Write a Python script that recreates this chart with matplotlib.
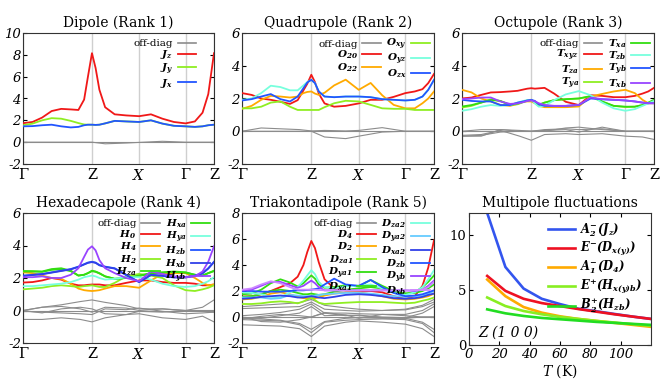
import matplotlib
matplotlib.use('Agg')
import matplotlib.pyplot as plt
from matplotlib.lines import Line2D

plt.rcParams['font.family'] = 'DejaVu Serif'
plt.rcParams['mathtext.fontset'] = 'dejavuserif'

# k-path sample positions (fraction of the path) and high-symmetry points
K = [0, .05, .10, .15, .20, .25, .29, .32, .34, .361, .38, .40, .43, .48,
     .54, .608, .67, .73, .79, .851, .90, .94, .97, 1.0]
KC = [0, .1, .2, .3, .361, .43, .54, .608, .73, .851, .94, 1.0]
sym_pos = [0, 0.361, 0.608, 0.851, 1.0]
sym_lab = ['Γ', 'Z', r'$X$', 'Γ', 'Z']

# ---- Dipole
Jz = [1.74, 1.85, 2.25, 2.85, 3.05, 3.0, 2.95, 3.9, 6.0, 8.15, 6.8, 4.8, 3.2, 2.55,
      2.45, 2.38, 2.55, 2.15, 1.85, 1.72, 1.9, 2.7, 4.4, 8.15]
Jy = [1.55, 1.7, 2.0, 2.2, 2.15, 1.95, 1.75, 1.62, 1.6, 1.6, 1.58, 1.6, 1.72, 1.95,
      1.9, 1.85, 2.0, 1.7, 1.5, 1.45, 1.4, 1.45, 1.55, 1.6]
Jx = [1.45, 1.47, 1.55, 1.6, 1.45, 1.35, 1.4, 1.55, 1.6, 1.6, 1.58, 1.6, 1.72, 1.95,
      1.9, 1.85, 2.0, 1.7, 1.5, 1.45, 1.4, 1.45, 1.55, 1.6]
dip_off = [
    [0, 0, 0, 0, 0, 0, 0, 0, 0, 0, 0, 0],
    [0, 0, 0, 0, 0, -0.15, -0.08, -0.02, 0.08, 0, 0, 0],
]

# ---- Quadrupole
O20 = [2.33, 2.22, 2.0, 1.92, 1.8, 1.67, 1.9, 2.5, 2.9, 3.45, 3.0, 2.3, 1.7, 1.5,
       1.55, 1.7, 1.92, 1.92, 2.1, 2.33, 2.43, 2.57, 2.94, 3.5]
O22 = [1.37, 1.55, 1.92, 2.16, 2.12, 2.06, 2.12, 2.33, 2.4, 2.43, 2.3, 2.22, 2.35, 2.8,
       3.15, 2.53, 2.95, 2.2, 1.61, 1.4, 1.4, 1.71, 2.0, 2.43]
Oxy = [1.4, 1.4, 1.5, 1.75, 1.82, 1.5, 1.3, 1.3, 1.3, 1.3, 1.3, 1.3, 1.47, 1.71,
       1.86, 1.82, 1.61, 1.4, 1.37, 1.37, 1.3, 1.3, 1.3, 1.3]
Oyz = [1.92, 2.0, 2.33, 2.78, 2.7, 2.5, 2.5, 2.8, 3.0, 3.14, 2.94, 2.43, 2.12, 2.08,
       2.12, 2.12, 2.08, 1.96, 1.92, 1.88, 1.92, 2.12, 2.53, 3.14]
Ozx = [1.88, 1.96, 2.12, 2.27, 1.96, 1.82, 2.12, 2.63, 2.98, 3.14, 2.94, 2.43, 2.12, 2.08,
       2.12, 2.12, 2.08, 1.96, 1.92, 1.88, 1.92, 2.12, 2.53, 3.14]
quad_off = [
    [0, 0, 0, 0, 0, 0, 0, 0, 0, 0, 0, 0],
    [0, 0.2, 0.15, 0.1, 0.02, 0.05, 0.02, 0.05, 0.22, 0, 0, 0],
    [0, 0, 0, 0, 0, -0.35, -0.45, -0.3, -0.05, 0, 0, 0],
]

# ---- Octupole
Txyz = [2.0, 2.06, 2.22, 2.37, 2.39, 2.43, 2.47, 2.55, 2.6, 2.63, 2.6, 2.62, 2.65, 2.3,
        1.8, 1.6, 2.2, 2.16, 2.08, 2.08, 2.16, 2.3, 2.43, 2.65]
Tza = [2.53, 2.37, 2.0, 1.82, 1.61, 1.55, 1.67, 1.82, 1.82, 1.82, 1.71, 1.55, 1.47, 1.47,
       1.47, 1.51, 2.12, 2.28, 2.43, 2.53, 2.33, 1.92, 1.71, 1.71]
Tya = [1.45, 1.55, 1.75, 1.95, 1.85, 1.6, 1.65, 1.78, 1.85, 1.9, 1.75, 1.62, 1.75, 1.9,
       1.95, 2.0, 2.12, 1.8, 1.55, 1.48, 1.5, 1.6, 1.72, 1.9]
Txa = [1.51, 1.6, 1.75, 1.92, 1.85, 1.61, 1.7, 1.8, 1.88, 1.92, 1.75, 1.61, 1.75, 1.9,
       1.96, 2.0, 2.15, 1.82, 1.55, 1.5, 1.5, 1.6, 1.75, 1.92]
Tzb = [1.25, 1.35, 1.5, 1.6, 1.55, 1.6, 1.75, 1.85, 1.9, 1.92, 1.7, 1.5, 1.55, 1.9,
       2.25, 2.45, 2.2, 1.75, 1.4, 1.25, 1.35, 1.55, 1.7, 1.85]
Tyb = [1.92, 1.85, 1.82, 1.82, 1.6, 1.6, 1.75, 1.82, 1.88, 1.92, 1.85, 1.65, 1.55, 1.55,
       1.55, 1.6, 2.0, 1.95, 1.92, 1.88, 1.82, 1.75, 1.71, 1.71]
Txb = [1.96, 2.0, 2.06, 2.06, 1.82, 1.67, 1.7, 1.78, 1.85, 1.88, 1.82, 1.71, 1.61, 1.55,
       1.55, 1.61, 2.06, 1.96, 1.92, 1.88, 1.82, 1.75, 1.71, 1.71]
oct_off = [
    [0, 0, 0, 0, 0, 0, 0, 0, 0, 0, 0, 0],
    [-0.3, -0.3, 0.1, 0.0, 0.0, 0.1, 0.15, 0.1, 0.15, 0.0, 0.0, 0.0],
    [-0.25, -0.2, 0.05, -0.3, -0.55, -0.2, -0.15, -0.2, -0.15, -0.3, -0.35, -0.5],
    [0.0, 0.1, 0.1, 0.05, 0.0, 0.05, 0.1, -0.05, 0.25, 0.0, 0.0, 0.0],
    [-0.3, -0.25, -0.05, 0.0, 0.0, 0.0, 0.2, 0.25, 0.1, 0.0, 0.0, 0.0],
]

# ---- Hexadecapole
H0 = [1.72, 1.75, 1.85, 2.0, 1.9, 1.65, 1.55, 1.55, 1.58, 1.6, 1.6, 1.6, 1.55, 1.55,
      1.7, 1.85, 1.85, 1.75, 1.7, 1.7, 1.65, 1.55, 1.55, 1.6]
H4 = [2.35, 2.3, 2.15, 2.0, 1.95, 1.65, 1.35, 1.25, 1.22, 1.2, 1.22, 1.25, 1.35, 1.5,
      1.5, 1.4, 1.85, 2.25, 2.3, 2.3, 2.0, 1.7, 1.55, 1.6]
H2 = [1.3, 1.35, 1.4, 1.5, 1.55, 1.5, 1.45, 1.5, 1.52, 1.55, 1.5, 1.45, 1.45, 1.7,
      2.1, 2.25, 2.15, 2.0, 1.55, 1.25, 1.2, 1.3, 1.4, 1.55]
Hza = [2.4, 2.4, 2.38, 2.5, 2.55, 2.42, 2.15, 2.2, 2.3, 2.42, 2.38, 2.28, 2.1, 1.95,
       2.0, 2.12, 2.28, 2.33, 2.38, 2.33, 2.2, 2.15, 2.3, 2.42]
Hxa = [2.43, 2.42, 2.4, 2.55, 2.6, 2.45, 2.15, 2.2, 2.3, 2.45, 2.4, 2.3, 2.1, 1.95,
       2.0, 2.15, 2.3, 2.35, 2.4, 2.35, 2.2, 2.15, 2.3, 2.45]
Hya = [1.5, 1.5, 1.55, 1.6, 1.65, 1.75, 1.9, 2.05, 2.1, 2.15, 2.1, 2.0, 1.9, 1.95,
       2.05, 2.05, 1.9, 1.65, 1.5, 1.45, 1.5, 1.65, 1.8, 2.05]
Hzb = [2.15, 2.2, 2.25, 2.35, 2.45, 2.55, 2.7, 2.85, 2.95, 3.0, 2.95, 2.8, 2.7, 2.6,
       2.2, 1.75, 2.2, 2.15, 2.05, 2.05, 2.15, 2.3, 2.6, 3.0]
Hxb = [2.12, 2.18, 2.23, 2.33, 2.43, 2.53, 2.68, 2.83, 2.93, 2.98, 2.93, 2.78, 2.68, 2.58,
       2.18, 1.75, 2.18, 2.13, 2.03, 2.03, 2.13, 2.28, 2.58, 2.98]
Hyb = [2.05, 2.05, 2.1, 2.0, 2.0, 2.2, 2.6, 3.3, 3.75, 3.95, 3.7, 3.1, 2.6, 2.3,
       2.0, 1.8, 2.4, 2.25, 2.1, 2.05, 2.1, 2.4, 3.0, 3.95]
hex_off = [
    [0, 0, 0, 0, 0, 0, 0, 0, 0, 0, 0, 0],
    [0, 0.2, 0.35, 0.55, 0.65, 0.5, 0.3, 0.1, 0.1, 0, 0.2, 0.65],
    [-0.55, -0.55, -0.45, -0.55, -0.7, -0.45, -0.25, -0.2, -0.45, -0.55, -0.35, -0.7],
    [0, 0.2, 0.25, 0.1, -0.1, 0.2, 0.15, 0, 0.1, 0, -0.05, -0.1],
    [0, -0.15, 0.1, 0.2, 0.1, -0.2, -0.25, -0.05, -0.1, 0, 0, 0],
    [-0.05, -0.1, -0.15, -0.2, -0.25, 0.1, 0.05, 0.15, -0.05, -0.2, -0.15, -0.1],
]

# ---- Triakontadipole
D4 = [1.57, 1.6, 1.75, 2.0, 2.3, 2.6, 3.1, 4.0, 5.0, 5.85, 5.3, 4.2, 2.9, 2.2,
      2.05, 2.0, 2.0, 1.9, 1.6, 1.4, 1.6, 2.4, 3.8, 5.9]
D2 = [1.35, 1.4, 1.55, 1.8, 1.9, 1.75, 1.55, 1.45, 1.45, 1.45, 1.45, 1.5, 1.65, 1.8,
      1.9, 1.9, 1.75, 1.6, 1.4, 1.35, 1.4, 1.5, 1.6, 1.8]
Dza1 = [1.0, 1.0, 1.05, 1.15, 1.2, 1.15, 1.05, 1.2, 1.35, 1.5, 1.3, 1.1, 1.0, 1.05,
        1.1, 1.15, 1.15, 1.15, 1.1, 1.05, 1.1, 1.25, 1.35, 1.5]
Dya1 = [1.75, 1.8, 2.1, 2.6, 2.9, 2.65, 2.35, 2.6, 2.9, 3.2, 2.95, 2.5, 2.25, 2.3,
        2.45, 2.35, 2.85, 2.4, 2.0, 1.8, 1.9, 2.3, 2.7, 3.2]
Dxa1 = [1.55, 1.6, 1.75, 2.0, 2.1, 2.0, 1.85, 1.75, 1.75, 1.8, 1.75, 1.7, 1.75, 1.95,
        2.1, 2.2, 2.3, 2.2, 1.95, 1.8, 1.85, 2.0, 2.2, 2.5]
Dza2 = [1.9, 1.85, 1.75, 1.55, 1.5, 1.9, 2.3, 2.8, 3.2, 3.6, 3.3, 2.7, 2.3, 2.2,
        2.35, 2.4, 2.5, 2.2, 1.85, 1.7, 1.9, 2.3, 2.9, 3.6]
Dya2 = [1.5, 1.5, 1.5, 1.4, 1.45, 1.7, 1.65, 1.6, 1.6, 1.6, 1.65, 1.7, 1.75, 1.8,
        1.85, 1.85, 1.8, 1.7, 1.6, 1.55, 1.6, 1.65, 1.8, 2.0]
Dxa2 = [1.4, 1.45, 1.55, 1.6, 1.65, 1.6, 1.5, 1.5, 1.55, 1.6, 1.55, 1.5, 1.45, 1.55,
        1.7, 1.75, 1.7, 1.6, 1.45, 1.4, 1.45, 1.55, 1.7, 1.8]
Dzb = [2.0, 2.0, 1.95, 1.95, 1.95, 2.0, 2.05, 2.05, 2.08, 2.1, 2.15, 2.2, 2.5, 2.95,
       2.5, 2.4, 2.85, 2.3, 1.85, 1.6, 1.65, 1.75, 1.9, 2.05]
Dyb = [2.05, 2.1, 2.4, 2.7, 2.7, 2.45, 2.25, 2.4, 2.6, 2.8, 2.6, 2.3, 2.05, 2.05,
       2.05, 2.05, 2.05, 2.05, 2.05, 2.05, 2.0, 2.1, 2.4, 2.8]
Dxb = [2.1, 2.2, 2.5, 2.75, 2.6, 2.3, 2.1, 2.1, 2.1, 2.1, 2.1, 2.08, 2.05, 2.05,
       2.05, 2.05, 2.05, 2.05, 2.05, 2.05, 2.05, 2.1, 2.3, 2.7]
tri_off = [
    [0, 0, 0, 0, 0, 0, 0, 0, 0, 0, 0, 0],
    [0.8, 0.9, 1.0, 1.1, 1.35, 0.9, 0.7, 0.6, 0.5, 0.6, 0.9, 1.35],
    [0.65, 0.7, 0.75, 0.8, 1.15, 0.6, 0.5, 0.45, 0.5, 0.55, 0.8, 1.15],
    [0.1, 0.2, 0.35, 0.6, 1.0, 0.3, 0.3, 0.25, 0.2, 0.2, 0.5, 1.0],
    [-0.05, -0.1, 0.1, 0.3, 0.8, 0.1, 0.15, 0.1, 0.0, -0.05, 0.3, 0.8],
    [-0.1, -0.15, -0.25, -0.5, -0.95, -0.35, -0.1, -0.05, -0.1, -0.1, -0.4, -0.95],
    [-0.2, -0.25, -0.3, -0.6, -1.2, -0.4, -0.25, -0.2, -0.15, -0.2, -0.5, -1.2],
    [-0.6, -0.65, -0.7, -0.9, -1.5, -0.7, -0.4, -0.3, -0.4, -0.55, -0.9, -1.5],
    [-0.15, 0.05, 0.2, 0.1, 0.0, 0.35, 0.15, -0.1, 0.2, 0.1, 0.0, 0.0],
    [0.0, -0.35, -0.4, -0.2, 0.0, 0.3, 0.1, 0.15, -0.05, -0.1, 0.0, 0.0],
]

# ---- Multipole fluctuations vs temperature
T = [12, 24, 36, 48, 60, 72, 84, 96, 108, 120]
A2m = [12.0, 7.09, 5.13, 4.2, 3.72, 3.3, 3.07, 2.82, 2.58, 2.37]
Em = [6.28, 4.92, 4.2, 3.81, 3.54, 3.27, 3.03, 2.79, 2.58, 2.37]
A1m = [5.95, 4.44, 3.45, 2.94, 2.61, 2.37, 2.19, 2.01, 1.83, 1.65]
Ep = [4.32, 3.54, 3.09, 2.79, 2.55, 2.37, 2.19, 2.04, 1.89, 1.74]
B2p = [3.24, 2.88, 2.64, 2.46, 2.34, 2.22, 2.10, 2.01, 1.92, 1.83]

GRAY = '#8c8c8c'
RED = '#f01818'
ORANGE = '#ffaa00'
LIME = '#8fee22'
GREEN = '#33dd11'
AQUA = '#77ffdd'
SKY = '#66ccff'
BLUE = '#2255ff'
BLUE2 = '#3040e8'
PURPLE = '#9944ff'
VIOLET = '#cc88ff'


def bf(base, sub):
    return r'$\mathbfit{%s}_{\mathbfit{%s}}$' % (base, sub)


def band_panel(ax, title, ylim, yticks, offdiag, curves, ncol, anchor=(1.0, 1.0)):
    ax.set_axisbelow(True)
    for g in offdiag:
        ax.plot(KC, g, color=GRAY, lw=0.8, zorder=2)
    handles = [Line2D([], [], color=GRAY, lw=1.2, label='off-diag')]
    for label, vals, color in curves:
        h, = ax.plot(K, vals, color=color, lw=1.3, label=label, zorder=3)
        handles.append(h)
    ax.set_xlim(0, 1)
    ax.set_ylim(*ylim)
    ax.set_yticks(yticks)
    ax.set_yticklabels([str(v) for v in yticks], style='italic', fontsize=9.5)
    ax.set_xticks(sym_pos)
    ax.set_xticklabels(sym_lab, fontsize=10.5)
    ax.tick_params(axis='x', length=0, pad=3)
    ax.tick_params(axis='y', direction='in', right=True, length=3, pad=1.5)
    ax.grid(axis='x', color='#cfcfcf', lw=1.0)
    for s in ax.spines.values():
        s.set_color('#333333')
    ax.set_title(title, fontsize=10, pad=4)
    leg = ax.legend(handles=handles, loc='upper right', bbox_to_anchor=anchor,
                    ncol=ncol, fontsize=7.5, markerfirst=False, frameon=False,
                    borderpad=0.15, labelspacing=0.0, handlelength=1.8,
                    handletextpad=0.45, columnspacing=0.5, borderaxespad=0.25)
    leg.set_zorder(5)


fig = plt.figure(figsize=(6.64, 3.84), dpi=100)
W, H = 664.0, 384.0


def add_ax(l, r, t, b):
    return fig.add_axes([l / W, 1 - b / H, (r - l) / W, (b - t) / H])


ax1 = add_ax(23, 214, 33, 164)
ax2 = add_ax(242, 434, 33, 164)
ax3 = add_ax(462, 654, 33, 164)
ax4 = add_ax(23, 214, 213, 343)
ax5 = add_ax(242, 434, 213, 343)
ax6 = add_ax(469, 651, 213, 345)

band_panel(ax1, 'Dipole (Rank 1)', (-2, 10), [-2, 0, 2, 4, 6, 8, 10], dip_off,
           [(bf('J', 'z'), Jz, RED), (bf('J', 'y'), Jy, LIME),
            (bf('J', 'x'), Jx, BLUE)], 1, anchor=(0.93, 0.985))

band_panel(ax2, 'Quadrupole (Rank 2)', (-2, 6), [-2, 0, 2, 4, 6], quad_off,
           [(bf('O', '20'), O20, RED), (bf('O', '22'), O22, ORANGE),
            (bf('O', 'xy'), Oxy, LIME), (bf('O', 'yz'), Oyz, AQUA),
            (bf('O', 'zx'), Ozx, BLUE)], 2)

band_panel(ax3, 'Octupole (Rank 3)', (-2, 6), [-2, 0, 2, 4, 6], oct_off,
           [(bf('T', 'xyz'), Txyz, RED), (bf('T', 'za'), Tza, ORANGE),
            (bf('T', 'ya'), Tya, LIME), (bf('T', 'xa'), Txa, GREEN),
            (bf('T', 'zb'), Tzb, AQUA), (bf('T', 'yb'), Tyb, BLUE),
            (bf('T', 'xb'), Txb, PURPLE)], 2)

band_panel(ax4, 'Hexadecapole (Rank 4)', (-2, 6), [-2, 0, 2, 4, 6], hex_off,
           [(bf('H', '0'), H0, RED), (bf('H', '4'), H4, ORANGE),
            (bf('H', '2'), H2, LIME), (bf('H', 'za'), Hza, GREEN),
            (bf('H', 'xa'), Hxa, GREEN), (bf('H', 'ya'), Hya, AQUA),
            (bf('H', 'zb'), Hzb, BLUE), (bf('H', 'xb'), Hxb, BLUE2),
            (bf('H', 'yb'), Hyb, PURPLE)], 2)

band_panel(ax5, 'Triakontadipole (Rank 5)', (-2, 8), [-2, 0, 2, 4, 6, 8], tri_off,
           [(bf('D', '4'), D4, RED), (bf('D', '2'), D2, ORANGE),
            (bf('D', 'za1'), Dza1, LIME), (bf('D', 'ya1'), Dya1, GREEN),
            (bf('D', 'xa1'), Dxa1, GREEN), (bf('D', 'za2'), Dza2, AQUA),
            (bf('D', 'ya2'), Dya2, SKY), (bf('D', 'xa2'), Dxa2, BLUE2),
            (bf('D', 'zb'), Dzb, BLUE), (bf('D', 'yb'), Dyb, PURPLE),
            (bf('D', 'xb'), Dxb, VIOLET)], 2)

# multipole fluctuation panel
fl = [(r'$\mathbfit{A_2^{-}(J_z)}$', A2m, '#3355ee'),
      (r'$\mathbfit{E^{-}(D_{x(y)})}$', Em, '#ee1122'),
      (r'$\mathbfit{A_1^{-}(D_4)}$', A1m, '#ffaa00'),
      (r'$\mathbfit{E^{+}(H_{x(y)b})}$', Ep, '#88ee22'),
      (r'$\mathbfit{B_2^{+}(H_{zb})}$', B2p, '#22dd22')]
for label, vals, color in fl:
    ax6.plot(T, vals, color=color, lw=1.9, label=label)
ax6.set_xlim(0, 120)
ax6.set_ylim(0, 12)
ax6.set_xticks([0, 20, 40, 60, 80, 100])
ax6.set_xticklabels(['0', '20', '40', '60', '80', '100'], style='italic', fontsize=9.5)
ax6.set_yticks([0, 5, 10])
ax6.set_yticklabels(['0', '5', '10'], fontsize=9.5)
ax6.tick_params(direction='in', right=True, top=True, length=3, pad=2)
for s in ax6.spines.values():
    s.set_color('#333333')
ax6.set_xlabel(r'$T$ (K)', fontsize=10, labelpad=1)
ax6.set_title('Multipole fluctuations', fontsize=10, pad=4)
ax6.text(0.05, 0.09, 'Z (1 0 0)', transform=ax6.transAxes, style='italic',
         fontsize=10, va='center')
ax6.legend(loc='upper right', fontsize=8.3, frameon=False, handlelength=2.3,
           labelspacing=0.1, borderaxespad=0.3, handletextpad=0.5)

plt.savefig('out.png', dpi=100)
